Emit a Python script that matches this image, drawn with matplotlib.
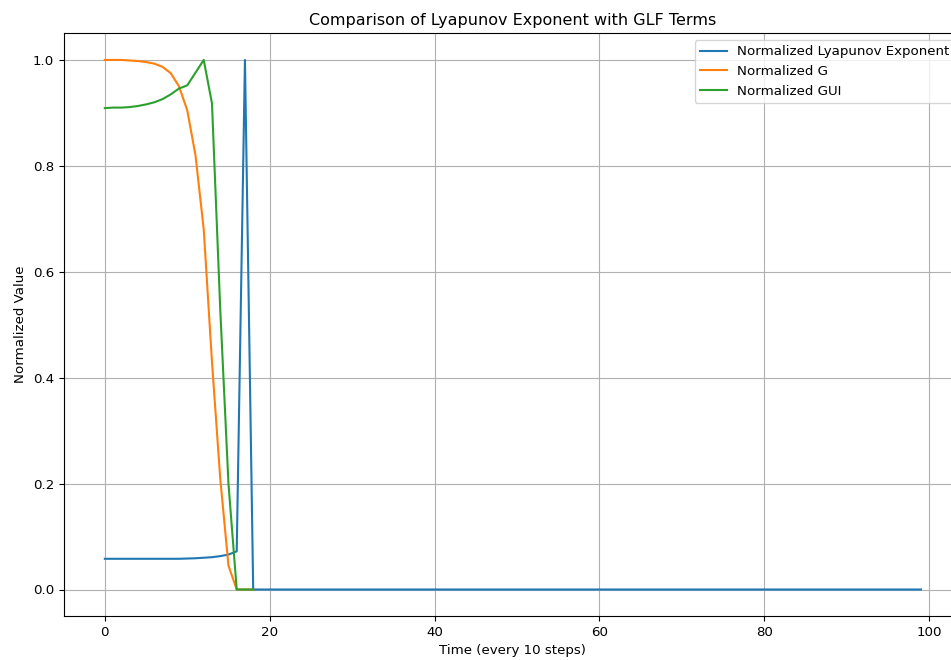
import matplotlib
matplotlib.use("Agg")
import matplotlib.pyplot as plt

# normalized series
lyapunov = [0.058, 0.058, 0.058, 0.058, 0.058, 0.058, 0.058, 0.058, 0.058, 0.058,
            0.0585, 0.059, 0.060, 0.061, 0.063, 0.066, 0.072, 1.0, 0.0] + [0.0] * 81
g_norm = [1.0, 1.0, 1.0, 0.999, 0.998, 0.996, 0.993, 0.987, 0.975, 0.95,
          0.905, 0.82, 0.68, 0.43, 0.21, 0.045, 0.0, 0.0, 0.0]
gui_norm = [0.909, 0.910, 0.910, 0.911, 0.913, 0.916, 0.920, 0.926, 0.935, 0.946,
            0.952, 0.976, 1.0, 0.918, 0.53, 0.20, 0.0, 0.0, 0.0]

labels = ['Normalized Lyapunov Exponent', 'Normalized G', 'Normalized GUI']

plt.rcParams['font.size'] = 9.6

fig = plt.figure(figsize=(9.51, 6.6), dpi=100)
# the reference is cropped on the right, so the axes run past the figure edge
ax = fig.add_axes([0.0673, 0.0667, 0.944, 0.8826])

ax.plot(range(len(lyapunov)), lyapunov, label=labels[0])
ax.plot(range(len(g_norm)), g_norm, label=labels[1])
ax.plot(range(len(gui_norm)), gui_norm, label=labels[2])

ax.set_xlabel('Time (every 10 steps)')
ax.set_ylabel('Normalized Value')
ax.set_title('Comparison of Lyapunov Exponent with GLF Terms', fontsize=11.5)
ax.legend(loc='upper right')
ax.grid(True)

fig.savefig('out.png', dpi=100)
